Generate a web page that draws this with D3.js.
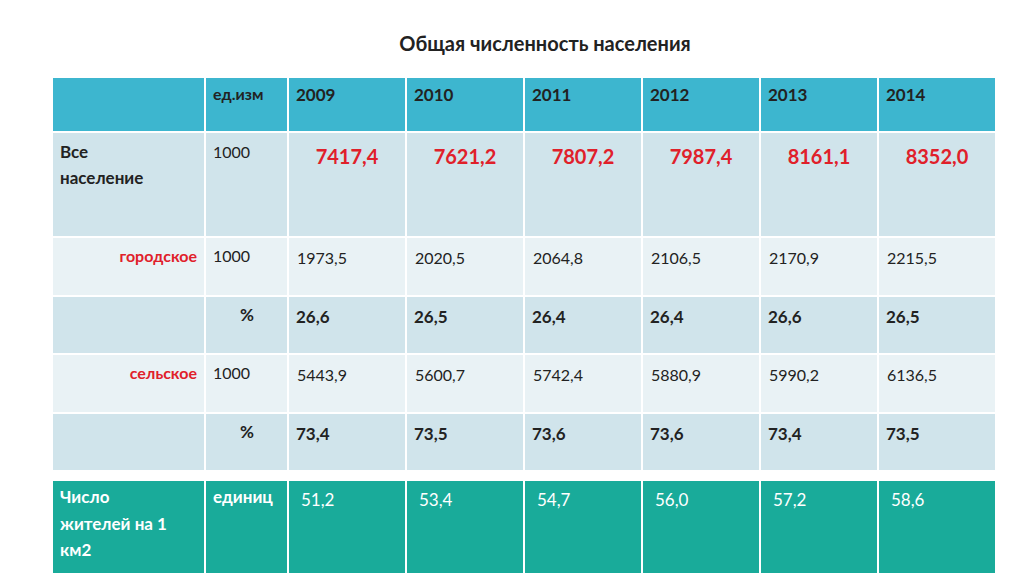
<!DOCTYPE html>
<html><head><meta charset="utf-8">
<script src="https://cdn.jsdelivr.net/npm/d3@7"></script>
<style>body{margin:0;background:#fff}svg{display:block}text{font-family:Lato,"Open Sans",sans-serif}</style>
</head><body><svg id="c" width="1024" height="574"></svg>
<script>
const years=["2009","2010","2011","2012","2013","2014"];
const total=["7417,4","7621,2","7807,2","7987,4","8161,1","8352,0"];
const urban=["1973,5","2020,5","2064,8","2106,5","2170,9","2215,5"];
const urbanPct=["26,6","26,5","26,4","26,4","26,6","26,5"];
const rural=["5443,9","5600,7","5742,4","5880,9","5990,2","6136,5"];
const ruralPct=["73,4","73,5","73,6","73,6","73,4","73,5"];
const density=["51,2","53,4","54,7","56,0","57,2","58,6"];
const rowKeys=["head","total","urban","urbanPct","rural","ruralPct","gap","density"];
const rowH=[55,105,59,58,59,58,9,94];

const svg=d3.select("#c");
svg.append("text").attr("x",545).attr("y",51).attr("text-anchor","middle").attr("font-size",20).attr("font-weight","bold").attr("fill","#222").text("Общая численность населения");

const x=d3.scaleBand().domain(years).range([288,996]);
const cols=[{x0:52,x1:205},{x0:205,x1:288}].concat(years.map(y=>({x0:x(y),x1:x(y)+x.bandwidth()})));
let acc=77;const rowY={};rowKeys.forEach((k,i)=>{rowY[k]=[acc,acc+rowH[i]];acc+=rowH[i];});
const fills={head:"#3db6cf",total:"#d0e4eb",urban:"#e9f2f5",urbanPct:"#d0e4eb",rural:"#e9f2f5",ruralPct:"#d0e4eb",density:"#19ab9a"};
Object.keys(fills).forEach(k=>{
  cols.forEach(c=>{
    svg.append("rect").attr("x",c.x0).attr("y",rowY[k][0]).attr("width",c.x1-c.x0).attr("height",rowY[k][1]-rowY[k][0])
      .attr("fill",fills[k]).attr("stroke","#fff").attr("stroke-width",2);
  });
});
function t(xp,yp,s,o={}){return svg.append("text").attr("x",xp).attr("y",yp).attr("font-size",o.size||16).attr("font-weight",o.bold?"bold":"normal").attr("fill",o.fill||"#222").attr("text-anchor",o.anchor||"start").text(s);}
// header
t(213,rowY.head[0]+23,"ед.изм",{bold:true});
years.forEach(y=>t(x(y)+8,rowY.head[0]+24,y,{bold:true,size:17}));
// total
t(60,rowY.total[0]+26,"Все",{bold:true,size:17});t(60,rowY.total[0]+52,"население",{bold:true,size:17});
t(213,rowY.total[0]+26,"1000");
total.forEach((v,i)=>t(x(years[i])+x.bandwidth()/2,rowY.total[0]+32,v,{bold:true,size:20,fill:"#e0202a",anchor:"middle"}));
// urban
t(197,rowY.urban[0]+25,"городское",{bold:true,fill:"#e0202a",anchor:"end"});
t(213,rowY.urban[0]+25,"1000");
urban.forEach((v,i)=>t(x(years[i])+9,rowY.urban[0]+27,v));
t(247,rowY.urbanPct[0]+25,"%",{bold:true,anchor:"middle",size:17});
urbanPct.forEach((v,i)=>t(x(years[i])+8,rowY.urbanPct[0]+27,v,{bold:true,size:17}));
// rural
t(197,rowY.rural[0]+25,"сельское",{bold:true,fill:"#e0202a",anchor:"end"});
t(213,rowY.rural[0]+25,"1000");
rural.forEach((v,i)=>t(x(years[i])+9,rowY.rural[0]+27,v));
t(247,rowY.ruralPct[0]+25,"%",{bold:true,anchor:"middle",size:17});
ruralPct.forEach((v,i)=>t(x(years[i])+8,rowY.ruralPct[0]+27,v,{bold:true,size:17}));
// density
const w="#fff";
t(60,rowY.density[0]+23,"Число",{bold:true,fill:w,size:17});
t(60,rowY.density[0]+50,"жителей на 1",{bold:true,fill:w,size:17});
t(60,rowY.density[0]+76,"км2",{bold:true,fill:w,size:17});
t(213,rowY.density[0]+23,"единиц",{bold:true,fill:w,size:17});
density.forEach((v,i)=>t(x(years[i])+13,rowY.density[0]+26,v,{fill:w,size:17}));
</script></body></html>
